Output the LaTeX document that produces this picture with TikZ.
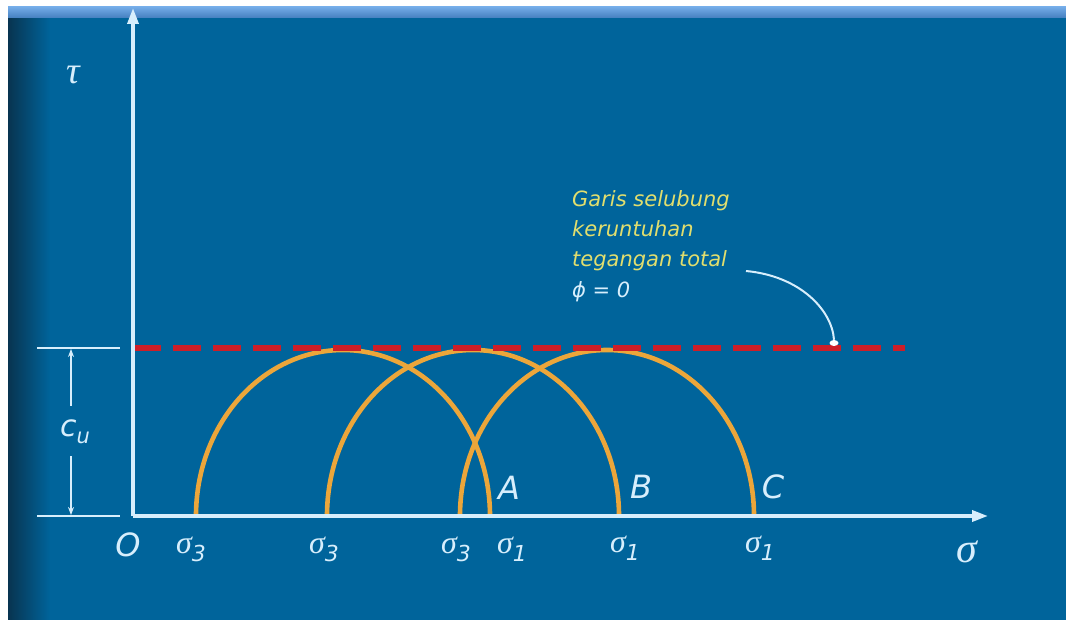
\documentclass[tikz,border=0pt]{standalone}
\usepackage{fontspec}
\setmainfont{DejaVu Sans}
\newfontfamily\gk{Liberation Serif}
\usetikzlibrary{arrows.meta,shapes.geometric}
\definecolor{bg}{RGB}{0,100,155}
\definecolor{bgdark}{RGB}{8,52,80}
\definecolor{stripe}{RGB}{80,150,225}
\definecolor{axis}{RGB}{215,238,252}
\definecolor{arcc}{RGB}{236,166,58}
\definecolor{dashc}{RGB}{205,30,40}
\definecolor{yel}{RGB}{225,222,110}
\tikzset{
  axisline/.style={axis, line width=3.5pt, -{Triangle[length=16pt,width=11pt]}},
  circarc/.style={arcc, line width=4.6pt},
  envelope/.style={dashc, line width=5.5pt, dash pattern=on 28pt off 12pt},
  dimline/.style={axis, line width=1.6pt},
  lbl/.style={text=axis, inner sep=0pt},
  letter/.style={text=axis, inner sep=0pt, font=\fontsize{32}{32}\selectfont\itshape},
  note/.style={text=yel, font=\fontsize{21}{30}\selectfont\itshape, inner sep=0pt, anchor=base west, align=left},
}
\newcommand{\sigl}[1]{{\gk\itshape\fontsize{32}{32}\selectfont σ}\raisebox{-8pt}{\fontsize{22}{22}\selectfont\itshape #1}}
\begin{document}
\begin{tikzpicture}[x=1pt,y=-1pt]
\useasboundingbox (0,0) rectangle (1066,620);
\fill[white] (0,0) rectangle (1066,620);
\fill[bg] (8,7) rectangle (1066,620);
\shade[left color=bgdark, right color=bg] (8,7) rectangle (50,620);
\shade[top color=stripe!80!white, bottom color=stripe!85!black] (8,7) rectangle (1066,18);

% key points
\coordinate (O) at (133,516);
\coordinate (ytop) at (133,8);
\coordinate (xend) at (988,516);
\coordinate (dstart) at (133,348);
\coordinate (dend) at (905,348);

% arcs (Mohr circles)
\draw[circarc] (490,516) arc[start angle=0, end angle=-180, x radius=147, y radius=166];
\draw[circarc] (619,516) arc[start angle=0, end angle=-180, x radius=146, y radius=166];
\draw[circarc] (754,516) arc[start angle=0, end angle=-180, x radius=147, y radius=166];

% envelope
\draw[envelope] (dstart) -- (dend);

% axes
\draw[axisline] (O) -- (ytop);
\draw[axisline] (O) -- (xend);

% c_u dimension
\coordinate (t1a) at (37,348); \coordinate (t1b) at (120,348);
\coordinate (t2a) at (37,516); \coordinate (t2b) at (120,516);
\draw[dimline] (t1a) -- (t1b);
\draw[dimline] (t2a) -- (t2b);
\node[lbl, font=\fontsize{30}{30}\selectfont\itshape] (cu) at (75,432) {c\raisebox{-7pt}{\fontsize{21}{21}\selectfont u}};
\coordinate (d1) at (71,349); \coordinate (d2) at (71,406);
\coordinate (d3) at (71,456); \coordinate (d4) at (71,515);
\draw[dimline, {Stealth[length=8pt,width=6pt]}-] (d1) -- (d2);
\draw[dimline, -{Stealth[length=8pt,width=6pt]}] (d3) -- (d4);

% axis labels
\node[lbl, font=\gk\itshape\fontsize{38}{38}\selectfont] (tau) at (73,75) {τ};
\node[lbl, font=\gk\itshape\fontsize{42}{42}\selectfont] (sig) at (967,552) {σ};
\node[letter] (o) at (128,545) {O};

% sigma labels
\node[lbl] (s31) at (191,549) {\sigl{3}};
\node[lbl] (s32) at (324,549) {\sigl{3}};
\node[lbl] (s33) at (456,549) {\sigl{3}};
\node[lbl] (s11) at (512,549) {\sigl{1}};
\node[lbl] (s12) at (625,548) {\sigl{1}};
\node[lbl] (s13) at (760,548) {\sigl{1}};

% point letters
\node[letter] (A) at (509,488) {A};
\node[letter] (B) at (641,487) {B};
\node[letter] (C) at (773,487) {C};

% note
\node[note] (n1) at (572,207) {Garis selubung};
\node[note] (n2) at (572,237) {keruntuhan};
\node[note] (n3) at (572,267) {tegangan total};
\node[note, text=axis] (n4) at (572,298) {ϕ = 0};

% pointer
\coordinate (p0) at (746,271);
\node[fill=white, ellipse, inner sep=0pt, minimum width=9pt, minimum height=6pt] (dot) at (834,343) {};
\draw[axis, line width=2pt] (p0) .. controls (800,276) and (832,310) .. (dot.north);
\end{tikzpicture}
\end{document}
